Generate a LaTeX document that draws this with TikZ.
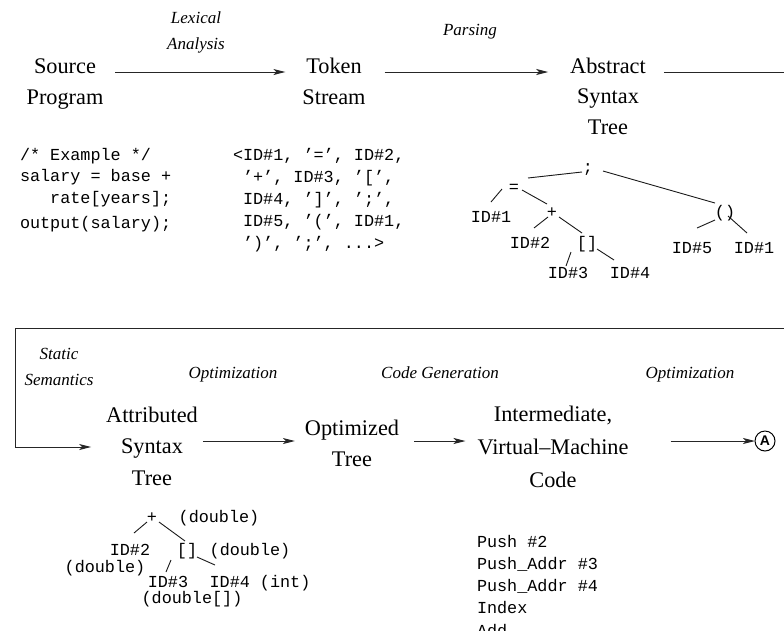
\documentclass[tikz,border=0pt]{standalone}
\usepackage{fontspec}
\setmainfont{Liberation Serif}
\setmonofont{Liberation Mono}
\newfontfamily\labelsans{Liberation Sans}
\usetikzlibrary{arrows.meta}
\newcommand\treeedge[4]{\draw[tedge] ([shift={#2}]#1.center) -- ([shift={#4}]#3.center);}
\begin{document}
\begin{tikzpicture}[x=1pt,y=-1pt,
  every node/.style={inner sep=0pt, outer sep=0pt},
  stage/.style={font=\fontsize{22.3}{31.5}\selectfont, align=center, anchor=base},
  phase/.style={font=\fontsize{17}{26}\selectfont\itshape, align=center, anchor=base},
  code/.style={font=\fontsize{16.8}{22}\selectfont\ttfamily, align=left, anchor=base west},
  tnode/.style={font=\fontsize{16.8}{20}\selectfont\ttfamily, text height=12pt, text depth=1pt, anchor=center},
  flow/.style={draw=black!85, line width=1pt, -{Stealth[length=12pt,width=6pt,inset=3pt]}},
  tedge/.style={draw=black!90, line width=0.9pt},
]
\useasboundingbox (0,0) rectangle (784,630);

% stages (anchor = baseline of the last line)
\node[stage] (src) at (65,104.5) {Source\\Program};
\node[stage, font=\fontsize{22.3}{31}\selectfont] (tok) at (334,104) {Token\\Stream};
\node[stage, font=\fontsize{22.3}{30.5}\selectfont] (ast) at (608,134) {Abstract\\Syntax\\Tree};
\node[stage] (attr) at (152,485) {Attributed\\Syntax\\Tree};
\node[stage, font=\fontsize{22.3}{31}\selectfont] (opt) at (352,466) {Optimized\\Tree};
\node[stage, font=\fontsize{22.3}{33}\selectfont] (vm) at (553,487) {Intermediate,\\Virtual–Machine\\Code};
\node[draw, circle, line width=1pt, minimum size=20pt, font=\labelsans\bfseries\fontsize{14}{14}\selectfont] (A) at (765,441) {A};

% phase labels
\node[phase] (lex) at (196,49) {Lexical\\Analysis};
\node[phase] (parse) at (470,35) {Parsing};
\node[phase] (stat) at (59,385) {Static\\Semantics};
\node[phase] (optl) at (233,378) {Optimization};
\node[phase] (cgen) at (440,378) {Code Generation};
\node[phase] (optr) at (690,378) {Optimization};

% connectors
\draw[flow] ([shift={(12,-32.5)}]src.base east) -- ([shift={(-17,-32)}]tok.base west);
\draw[flow] ([shift={(19,-32)}]tok.base east) -- ([shift={(-22,-62)}]ast.base west);
\coordinate (turnR) at (800,328);
\coordinate (turnL) at (15,328);
\draw[flow] ([shift={(18,-62)}]ast.base east) -| (turnR) -- (turnL) |- ([shift={(-15,-38)}]attr.base west);
\draw[flow] ([shift={(5,-44)}]attr.base east) -- ([shift={(-10,-25)}]opt.base west);
\draw[flow] ([shift={(15,-25)}]opt.base east) -- ([shift={(-12,-46)}]vm.base west);
\draw[flow] ([shift={(42,-46)}]vm.base east) -- (A.west);

% source code and tokens (anchor = baseline of the last line)
\node[code, font=\fontsize{16.8}{21.5}\selectfont\ttfamily] (srccode) at (20,228)
  {/* Example */\\salary = base +\\\phantom{xxx}rate[years];\\[3.5pt]output(salary);};
\node[code] (tokens) at (233,248)
  {<ID\#1, ’=’, ID\#2,\\\phantom{x}’+’, ID\#3, ’[’,\\\phantom{x}ID\#4, ’]’, ’;’,\\\phantom{x}ID\#5, ’(’, ID\#1,\\\phantom{x}’)’, ’;’, ...>};

% abstract syntax tree
\node[tnode] (semi) at (588,167) {;};
\node[tnode] (eq) at (514,187) {=};
\node[tnode] (plus) at (552,212) {+};
\node[tnode] (id1) at (491,217) {ID\#1};
\node[tnode] (id2) at (530,243) {ID\#2};
\node[tnode] (idx) at (587,243) {[]};
\node[tnode] (id3) at (568,273) {ID\#3};
\node[tnode] (id4) at (630,273) {ID\#4};
\node[tnode] (call) at (725,212) {()};
\node[tnode] (id5) at (692,248) {ID\#5};
\node[tnode] (id1b) at (754,248) {ID\#1};
\treeedge{semi}{(-6,5)}{eq}{(14,-9)}
\treeedge{semi}{(15,4)}{call}{(-10,-9)}
\treeedge{eq}{(-12,2)}{id1}{(0,-15)}
\treeedge{eq}{(8,3)}{plus}{(-5,-8)}
\treeedge{plus}{(-4,5)}{id2}{(4,-15)}
\treeedge{plus}{(7,5)}{idx}{(-5,-10)}
\treeedge{idx}{(-16,9)}{id3}{(-2,-7)}
\treeedge{idx}{(10,6)}{id4}{(-16,-13)}
\treeedge{call}{(-10,8)}{id5}{(5,-20)}
\treeedge{call}{(3,4)}{id1b}{(-7,-15)}

% attributed syntax tree
\node[tnode] (aplus) at (152,517) {+};
\node[tnode] (aplust) at (219,517) {(double)};
\node[tnode] (aid2) at (130,550) {ID\#2};
\node[tnode] (aid2t) at (105,567) {(double)};
\node[tnode] (aidx) at (187,550) {[]};
\node[tnode] (aidxt) at (250,550) {(double)};
\node[tnode] (aid3) at (168,582) {ID\#3};
\node[tnode] (aid3t) at (192,598) {(double[])};
\node[tnode] (aid4) at (260,582) {ID\#4 (int)};
\treeedge{aplus}{(-5,5)}{aid2}{(4,-17)}
\treeedge{aplus}{(7,5)}{aidx}{(-2,-9)}
\treeedge{aidx}{(-16,10)}{aid3}{(-2,-10)}
\treeedge{aidx}{(10,7)}{aid4}{(-45,-17)}

% virtual machine code (anchor = baseline of the last line)
\node[code, font=\fontsize{16.8}{22.3}\selectfont\ttfamily] (vmcode) at (477,636.2)
  {Push \#2\\Push\_Addr \#3\\Push\_Addr \#4\\Index\\Add};
\end{tikzpicture}
\end{document}
